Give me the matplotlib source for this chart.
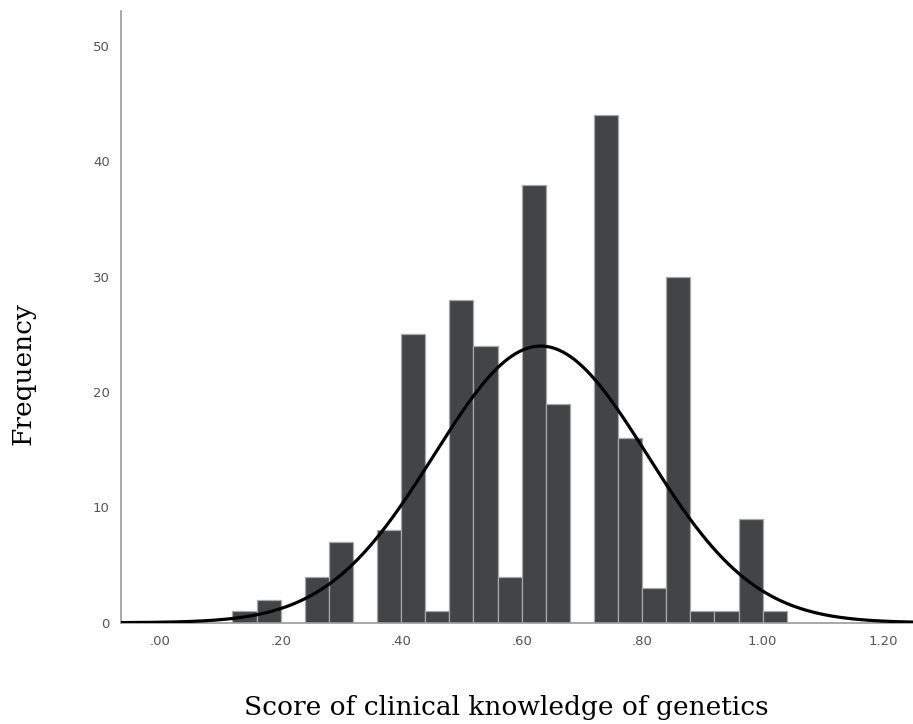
import numpy as np
import matplotlib
matplotlib.use("Agg")
import matplotlib.pyplot as plt

# Histogram data (bin left edges and counts)
bin_left = [0.12, 0.16, 0.20, 0.24, 0.28, 0.32, 0.36, 0.40, 0.44, 0.48,
            0.52, 0.56, 0.60, 0.64, 0.68, 0.72, 0.76, 0.80, 0.84, 0.88,
            0.92, 0.96, 1.00]
counts = [1, 2, 0, 4, 7, 0, 8, 25, 1, 28,
          24, 4, 38, 19, 0, 44, 16, 3, 30, 1,
          1, 9, 1]
bin_width = 0.04
x_ticks = [0.0, 0.2, 0.4, 0.6, 0.8, 1.0, 1.2]
x_tick_labels = [".00", ".20", ".40", ".60", ".80", "1.00", "1.20"]
y_ticks = [0, 10, 20, 30, 40, 50]

fig = plt.figure(figsize=(9.13, 7.24), dpi=100)
ax = fig.add_axes([121/913, 1 - 622.7/724, (913-121)/913, (622.7-11)/724])

lefts = np.array(bin_left)
cnt = np.array(counts)
ax.bar(lefts, cnt, width=bin_width, align='edge', color='#434446',
       edgecolor='#a8a8a8', linewidth=0.9, zorder=2)

# Normal curve fitted from the histogram
centers = lefts + bin_width / 2
n = cnt.sum()
mean = (centers * cnt).sum() / n
sd = np.sqrt(((centers - mean) ** 2 * cnt).sum() / (n - 1))
xs = np.linspace(-0.065, 1.25, 600)
ys = n * bin_width / (sd * np.sqrt(2 * np.pi)) * np.exp(-0.5 * ((xs - mean) / sd) ** 2)
ax.plot(xs, ys, color='black', linewidth=2.3, zorder=3, solid_capstyle='butt')

ax.set_xlim(-0.065, 1.2495)
ax.set_ylim(0, 53.05)
ax.set_xticks(x_ticks)
ax.set_xticklabels(x_tick_labels)
ax.set_yticks(y_ticks)
ax.tick_params(axis='both', length=0, labelsize=9.5, labelcolor='#555555')
ax.tick_params(axis='x', pad=9)
ax.tick_params(axis='y', pad=8)

for s in ['top', 'right']:
    ax.spines[s].set_visible(False)
for s in ['left', 'bottom']:
    ax.spines[s].set_color('#9a9a9a')
    ax.spines[s].set_linewidth(1.2)

fig.text(506/913, 1 - 708/724, "Score of clinical knowledge of genetics",
         ha='center', va='center', fontsize=19, family='DejaVu Serif')
fig.text(23/913, 1 - 374/724, "Frequency", rotation=90,
         ha='center', va='center', fontsize=19, family='DejaVu Serif')

fig.savefig("out.png", dpi=100, facecolor='white')
